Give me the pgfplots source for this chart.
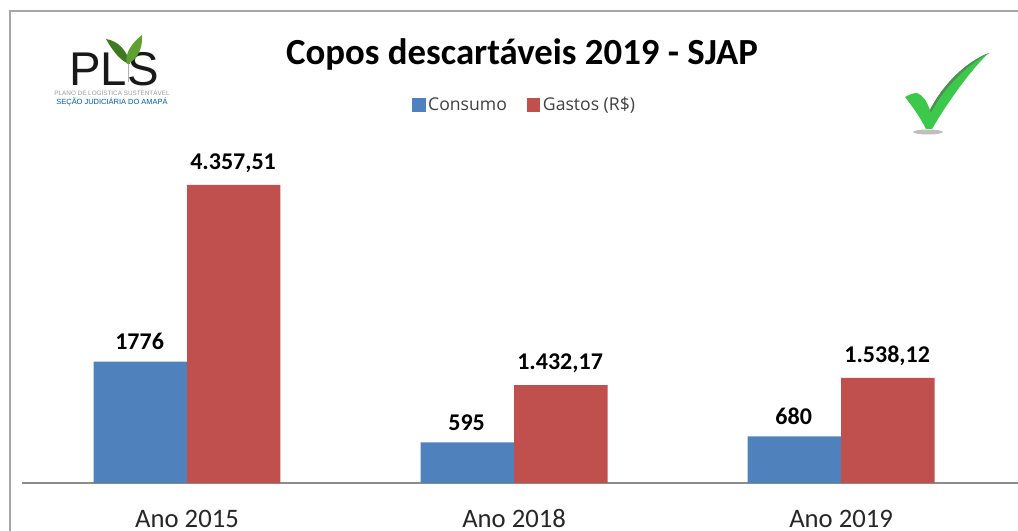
\documentclass[border=0pt]{standalone}
\usepackage{fontspec}
\setmainfont{Carlito}
\newfontfamily\legfont{Open Sans}
\newfontfamily\logofont{Liberation Sans}
\usepackage{pgfplots}
\pgfplotsset{compat=1.18}

\definecolor{barblue}{HTML}{4F81BD}
\definecolor{barred}{HTML}{C0504D}
\definecolor{axisgray}{HTML}{8C8C8C}
\definecolor{framegray}{HTML}{A6A6A6}
\definecolor{checkgreen}{HTML}{3CC84A}
\definecolor{checkdark}{HTML}{4F8F55}
\definecolor{leafdark}{HTML}{3F7A22}
\definecolor{leaflime}{HTML}{5FA032}

\begin{document}
\begin{tikzpicture}
	% page is 1018x531 px, 1px = 0.75pt, origin top left
	\useasboundingbox (0,0) rectangle (763.5pt,-398.25pt);

	\begin{axis}[
		at={(16.5pt,-362.25pt)},
		anchor=south west,
		scale only axis,
		width=747pt,
		height=256.5pt,
		xmin=-0.5046, xmax=2.541,
		ymin=0, ymax=5000,
		ybar=0pt,
		bar width=70.1pt,
		clip=false,
		axis x line=bottom,
		axis y line=none,
		axis line style={-,axisgray,line width=1pt},
		xtick={0,1,2},
		xticklabels={Ano 2015,Ano 2018,Ano 2019},
		major tick length=0pt,
		xticklabel style={font=\fontsize{20}{22}\selectfont,text=black!85,inner sep=0pt,yshift=-19.8pt,text height=13pt,text depth=0pt},
		point meta=explicit symbolic,
		nodes near coords,
		nodes near coords style={font=\fontsize{18}{20}\selectfont\bfseries,text=black,yshift=5.5pt,xshift=-0.5pt},
		title={\fontsize{27.6}{32}\selectfont\bfseries Copos descartáveis 2019 - SJAP},
		title style={at={(0.502,1.231)},anchor=center},
		legend columns=2,
		legend style={
			at={(0.505,1.105)},anchor=center,draw=none,fill=none,
			font=\legfont\fontsize{13.2}{15}\selectfont,text=black!75,
			/tikz/every even column/.style={column sep=13pt},
			inner sep=0pt,
		},
		legend image code/.code={\fill[#1] (0pt,-5pt) rectangle (10pt,5pt);},
	]
		\addplot[fill=barblue,draw=none] coordinates {
			(0,1776) [1776]
			(1,595) [595]
			(2,680) [680]
		};
		\addlegendentry{Consumo}
		\addplot[fill=barred,draw=none] coordinates {
			(0,4357.51) [{4.357,51}]
			(1,1432.17) [{1.432,17}]
			(2,1538.12) [{1.538,12}]
		};
		\addlegendentry{Gastos (R\$)}
	\end{axis}

	\begin{scope}[x=0.75pt,y=-0.75pt]
	\draw[framegray,line width=1.5pt] (9.5,531) -- (9.5,11.5) -- (1018,11.5);

	% logo
	\node[font=\logofont\fontsize{35.5}{40}\selectfont,text=black!90,anchor=center,inner sep=0pt] at (114,69) {PLS};
	\draw[black!30,line width=0.6pt] (128,62) -- (128,82);
	\fill[leafdark] (106,39) .. controls (118,41) and (127,50) .. (130,64) .. controls (121,62) and (112,50) .. (106,39) -- cycle;
	\fill[leaflime] (142,35) .. controls (143,47) and (138,60) .. (127,64) .. controls (124,53) and (133,42) .. (142,35) -- cycle;
	\node[font=\logofont\fontsize{4.75}{5}\selectfont,text=black!40,inner sep=0pt] at (112,92.5) {PLANO DE LOGÍSTICA SUSTENTÁVEL};
	\node[font=\logofont\fontsize{5.6}{6}\selectfont,text=teal!70!blue,inner sep=0pt] at (112,102.5) {SEÇÃO JUDICIÁRIA DO AMAPÁ};

	% check mark
	\fill[black!25] (928,132) ellipse (15 and 2.5);
	\fill[checkgreen] (905,97) .. controls (910,94) and (914,93) .. (917,93) .. controls (923,95) and (927,102) .. (930,110)
		.. controls (942,86) and (965,62) .. (989,53)
		.. controls (975,65) and (950,98) .. (932,129) -- (926,129) .. controls (920,117) and (912,106) .. (905,97) -- cycle;
	\fill[checkdark] (930,110) .. controls (942,86) and (965,62) .. (989,53) .. controls (967,65) and (945,86) .. (931,112.5) -- cycle;
	\end{scope}
\end{tikzpicture}
\end{document}
